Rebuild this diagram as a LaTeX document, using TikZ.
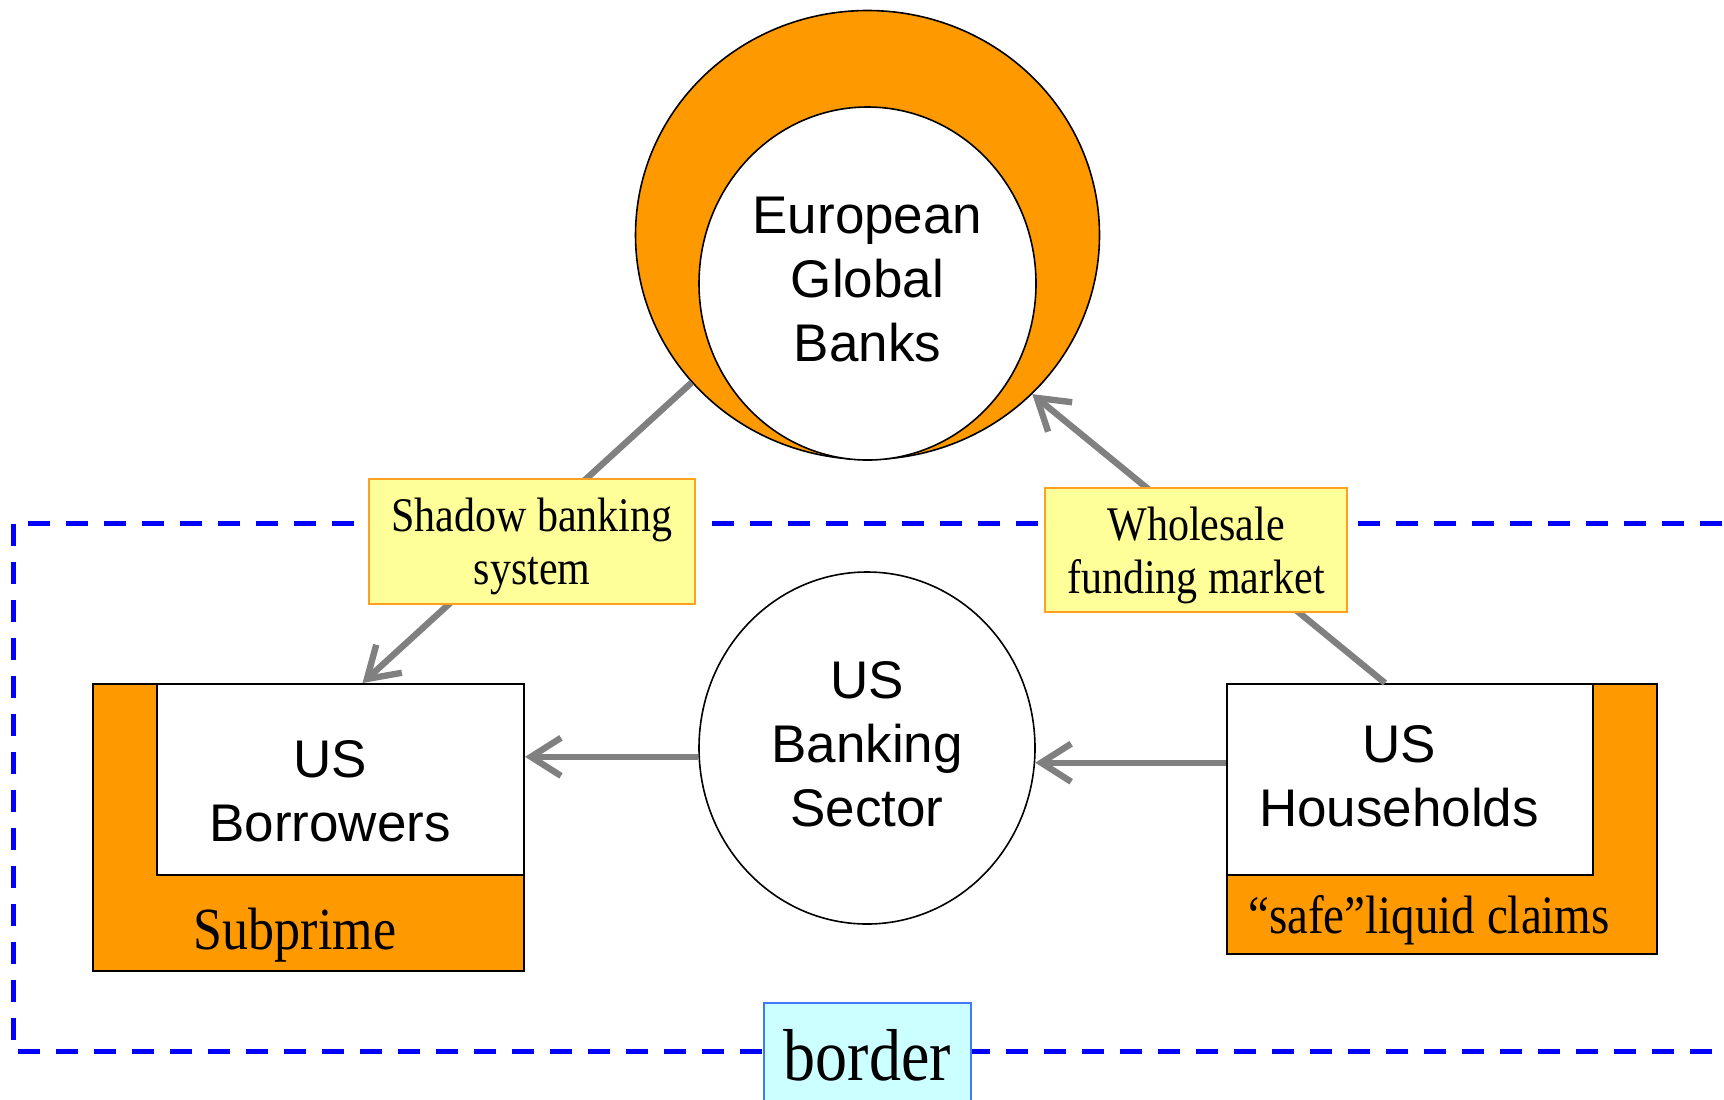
\documentclass[tikz,border=0pt]{standalone}
\usepackage{fontspec}
\setmainfont{Liberation Serif}
\setsansfont{Liberation Sans}
\usepackage{tikz}
\usetikzlibrary{arrows.meta, shapes.geometric}

\definecolor{shellorange}{HTML}{FF9900}
\definecolor{tagyellow}{HTML}{FFFF99}
\definecolor{tagorange}{HTML}{FFA020}
\definecolor{flowgray}{HTML}{808080}
\definecolor{frameblue}{HTML}{0000FF}
\definecolor{bordercyan}{HTML}{CCFFFF}
\definecolor{borderblue}{HTML}{4477FF}

\newcommand{\bigsans}{\sffamily\fontsize{26.5}{32}\selectfont}
\newcommand{\tagserif}{\rmfamily\fontsize{21}{26.4}\selectfont}
\newcommand{\baseserif}{\rmfamily\fontsize{26}{30}\selectfont}
\newcommand{\claimserif}{\rmfamily\fontsize{23.5}{28}\selectfont}
\newcommand{\borderserif}{\rmfamily\fontsize{32}{36}\selectfont}
\newcommand{\tall}[1]{\scalebox{1}[1.15]{#1}}

\begin{document}
\begin{tikzpicture}
	[%
	x=0.5pt, y=-0.5pt,%
	shell/.style ={ellipse,	draw=black,	fill=shellorange,	line width=0.8pt,	inner sep=0pt},%
	bank/.style ={ellipse,	draw=black,	fill=white,	line width=0.8pt,	inner sep=0pt,	align=center,	font=\bigsans,	text depth=4.4pt},%
	base/.style ={rectangle,	draw=black,	fill=shellorange,	line width=1pt,	inner sep=0pt},%
	agent/.style ={rectangle,	draw=black,	fill=white,	line width=1pt,	inner sep=0pt},%
	market/.style ={rectangle,	draw=tagorange,	fill=tagyellow,	line width=0.8pt,	inner sep=0pt,	align=center,	font=\tagserif,	text depth=0pt},%
	flow/.style ={draw=flowgray,	line width=3.2pt,	-{Straight Barb[length=15pt, width=19pt]}},%
	frame/.style ={draw=frameblue,	line width=2.5pt,	dash pattern=on 11pt off 8pt},%
	]

	\useasboundingbox (0,0) rectangle (1724,1099);

	% border of the US
	\draw [frame] (1760,523) -- (13,523) -- (13,1051) -- (1760,1051);

	% nodes
	% european banks
	\node (egbshell) at (867.5,235) [shell, minimum width=232pt, minimum height=224.5pt] {};
	\node (egb) at (867.5,283.5) [bank, minimum width=168.5pt, minimum height=176.5pt] {European\\Global\\Banks};
	% us banks
	\node (bsec) at (867,748) [bank, minimum width=168pt, minimum height=176pt] {US\\Banking\\Sector};
	% borrowers
	\node (subp) at (308.5,827.5) [base, minimum width=215.5pt, minimum height=143.5pt] {};
	\node (bor) at (340.5,779.5) [agent, minimum width=183.5pt, minimum height=95.5pt] {};
	\node (borlabel) at (330,791) [align=center, font=\bigsans] {US\\Borrowers};
	\node (subplabel) at (295,935) [font=\baseserif] {\tall{Subprime}};
	% households
	\node (claims) at (1442,819) [base, minimum width=215pt, minimum height=135pt] {};
	\node (hh) at (1410,779.5) [agent, minimum width=183pt, minimum height=95.5pt] {};
	\node (hhlabel) at (1399,776) [align=center, font=\bigsans] {US\\Households};
	\node (claimslabel) at (1429,920) [font=\claimserif] {\tall{“safe”liquid claims}};

	% interconnections
	\draw [flow] (egbshell.220) -- ([xshift=11pt]bor.north);
	\draw [flow] ([xshift=-12.5pt]hh.north) -- (egbshell.316);
	\draw [flow] (bsec.183) -- (bor.east |- bsec.183);
	\draw [flow] (hh.west |- bsec.355) -- (bsec.355);

	% markets on top of the flows
	\node (shadow) at (532,541.5) [market, minimum width=163pt, minimum height=62.5pt] {\tall{Shadow banking}\\\tall{system}};
	\node (whole) at (1196,550) [market, minimum width=151pt, minimum height=62pt] {\tall{Wholesale}\\\tall{funding market}};
	\node (border) at (867.5,1055) [draw=borderblue, fill=bordercyan, line width=0.8pt, minimum width=103.5pt, minimum height=52pt, font=\borderserif] {\tall{border}};

\end{tikzpicture}
\end{document}
